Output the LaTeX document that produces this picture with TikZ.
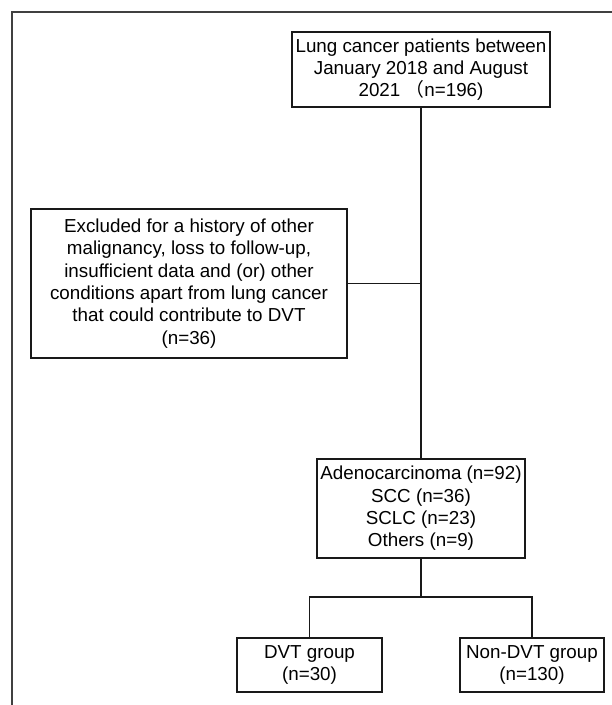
\documentclass[tikz,border=0pt]{standalone}
\usepackage{fontspec}
\setmainfont{Liberation Sans}
\newfontfamily\cjk{Noto Sans CJK SC}
\usetikzlibrary{positioning}

\begin{document}
\begin{tikzpicture}[
        x=1pt,
        y=-1pt,
        thick,
        flow box/.style={
            rectangle,
            draw=black!90,
            line width=1.8pt,
            align=center,
            inner sep=0pt,
            font=\fontsize{18.8}{22.3}\selectfont,
        },
        link/.style={
            draw=black!90,
            line width=1.8pt,
        }
    ]
    \useasboundingbox (0,0) rectangle (612,705);
    % frame
    \draw[line width=1.8pt, black!75] (12,705) -- (12,12) -- (612,12);

    \node[flow box, minimum width=258pt, minimum height=75pt] (patients) at (421,69.5)
        {Lung cancer patients between\\January 2018 and August\\2021 {\cjk （}n=196)};
    \node[flow box, minimum width=316pt, minimum height=149pt] (excluded) at (189,283.5)
        {Excluded for a history of other\\malignancy, loss to follow-up,\\insufficient data and (or) other\\conditions apart from lung cancer\\that could contribute to DVT\\(n=36)};
    \node[flow box, minimum width=208pt, minimum height=99pt] (types) at (421,508.5)
        {Adenocarcinoma (n=92)\\SCC (n=36)\\SCLC (n=23)\\Others (n=9)};
    \node[flow box, minimum width=145pt, minimum height=54pt] (dvt) at (309.5,665)
        {DVT group\\(n=30)};
    \node[flow box, minimum width=144pt, minimum height=54pt] (nondvt) at (532,665)
        {Non-DVT group\\(n=130)};
    \coordinate (split) at (421,597);

    \draw[link] (patients) -- (types);
    \draw[link] (excluded.east) -- (excluded.east -| patients.south);
    \draw[link] (types) -- (split);
    \draw[link] (dvt.north) |- (split) -| (nondvt.north);
\end{tikzpicture}
\end{document}
